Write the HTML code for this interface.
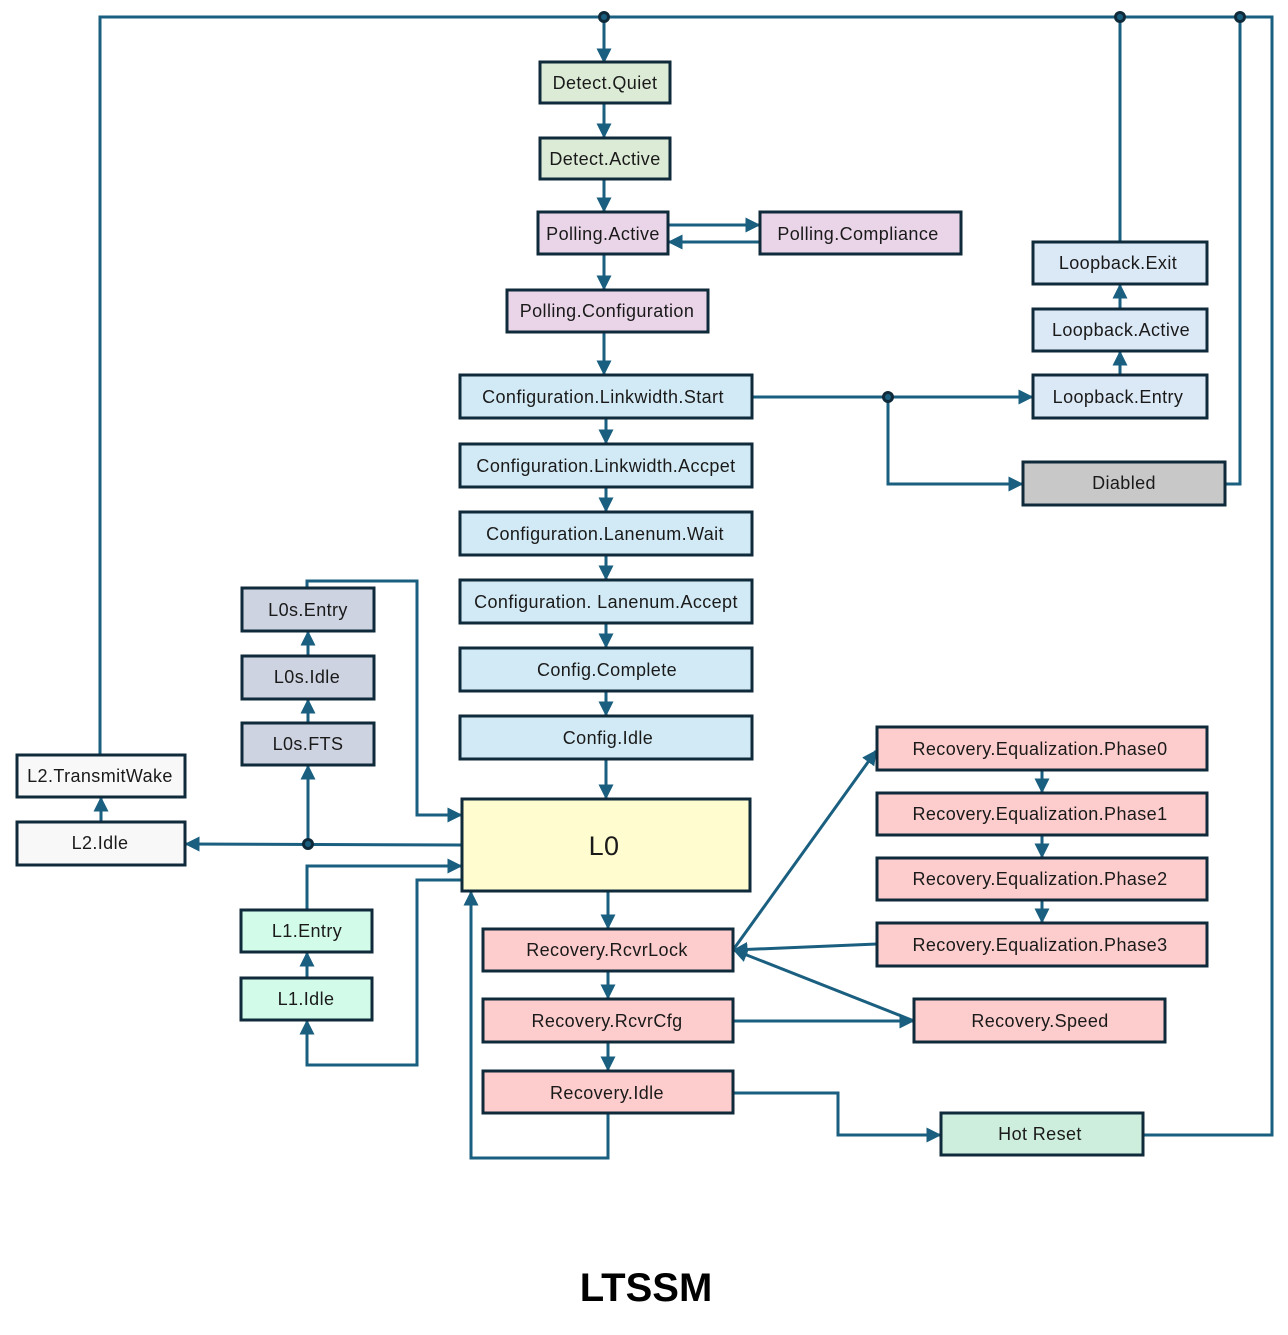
<!DOCTYPE html>
<html><head><style>body{margin:0;background:#fff}svg{display:block}</style></head><body>
<svg width="1288" height="1335" viewBox="0 0 1288 1335" xmlns="http://www.w3.org/2000/svg" font-family="Liberation Sans, sans-serif">
<defs><marker id="a" viewBox="0 0 10 10" refX="9" refY="5" markerWidth="5" markerHeight="5" orient="auto-start-reverse" markerUnits="strokeWidth"><path d="M0,0L10,5L0,10z" fill="#1a5f80"/></marker></defs>
<g fill="none" stroke="#1a5f80" stroke-width="3">
<path d="M100,755V17H1272V1135H1143"/>
<path d="M604,17V62" marker-end="url(#a)"/>
<path d="M1120,17V242"/>
<path d="M1240,17V484H1225"/>
<path d="M604,103V137" marker-end="url(#a)"/>
<path d="M604,179V211" marker-end="url(#a)"/>
<path d="M668,225H759" marker-end="url(#a)"/>
<path d="M760,242H669" marker-end="url(#a)"/>
<path d="M604,254V289" marker-end="url(#a)"/>
<path d="M604,332V374" marker-end="url(#a)"/>
<path d="M752,397H1032" marker-end="url(#a)"/>
<path d="M888,397V484H1022" marker-end="url(#a)"/>
<path d="M1120,375V352" marker-end="url(#a)"/>
<path d="M1120,309V285" marker-end="url(#a)"/>
<path d="M606,418V443" marker-end="url(#a)"/>
<path d="M606,487V511" marker-end="url(#a)"/>
<path d="M606,555V579" marker-end="url(#a)"/>
<path d="M606,623V647" marker-end="url(#a)"/>
<path d="M606,691V715" marker-end="url(#a)"/>
<path d="M606,759V798" marker-end="url(#a)"/>
<path d="M307,588V581H417V815H461" marker-end="url(#a)"/>
<path d="M308,656V632" marker-end="url(#a)"/>
<path d="M308,723V700" marker-end="url(#a)"/>
<path d="M462,845L186,844" marker-end="url(#a)"/>
<path d="M308,844V766" marker-end="url(#a)"/>
<path d="M101,822V798" marker-end="url(#a)"/>
<path d="M307,910V866H461" marker-end="url(#a)"/>
<path d="M462,880H417V1065H307V1021" marker-end="url(#a)"/>
<path d="M307,978V953" marker-end="url(#a)"/>
<path d="M608,891V928" marker-end="url(#a)"/>
<path d="M608,971V998" marker-end="url(#a)"/>
<path d="M608,1042V1070" marker-end="url(#a)"/>
<path d="M608,1113V1158H471V892" marker-end="url(#a)"/>
<path d="M733,950L876,751" marker-end="url(#a)"/>
<path d="M877,944L734,950" marker-end="url(#a)"/>
<path d="M733,1021H913" marker-end="url(#a)"/>
<path d="M914,1021L734,950" marker-end="url(#a)"/>
<path d="M733,1093H838V1135H940" marker-end="url(#a)"/>
<path d="M1042,770V792" marker-end="url(#a)"/>
<path d="M1042,835V857" marker-end="url(#a)"/>
<path d="M1042,900V922" marker-end="url(#a)"/>
</g>
<g fill="#1a5f80" stroke="#0f2a3a" stroke-width="3"><circle cx="604" cy="17" r="4.5"/><circle cx="1120" cy="17" r="4.5"/><circle cx="1240" cy="17" r="4.5"/><circle cx="888" cy="397" r="4.5"/><circle cx="308" cy="844" r="4.5"/></g>
<g stroke="#0f2a3a" stroke-width="3">
<rect x="540" y="62" width="130" height="41" fill="#dcebd6"/>
<rect x="540" y="138" width="130" height="41" fill="#dcebd6"/>
<rect x="538" y="212" width="130" height="42" fill="#ead5e8"/>
<rect x="760" y="212" width="201" height="42" fill="#ead5e8"/>
<rect x="507" y="290" width="201" height="42" fill="#ead5e8"/>
<rect x="460" y="375" width="292" height="43" fill="#d2eaf5"/>
<rect x="460" y="444" width="292" height="43" fill="#d2eaf5"/>
<rect x="460" y="512" width="292" height="43" fill="#d2eaf5"/>
<rect x="460" y="580" width="292" height="43" fill="#d2eaf5"/>
<rect x="460" y="648" width="292" height="43" fill="#d2eaf5"/>
<rect x="460" y="716" width="292" height="43" fill="#d2eaf5"/>
<rect x="462" y="799" width="288" height="92" fill="#fffdd0"/>
<rect x="483" y="929" width="250" height="42" fill="#fdcccc"/>
<rect x="483" y="999" width="250" height="43" fill="#fdcccc"/>
<rect x="483" y="1071" width="250" height="42" fill="#fdcccc"/>
<rect x="877" y="727" width="330" height="43" fill="#fdcccc"/>
<rect x="877" y="793" width="330" height="42" fill="#fdcccc"/>
<rect x="877" y="858" width="330" height="42" fill="#fdcccc"/>
<rect x="877" y="923" width="330" height="43" fill="#fdcccc"/>
<rect x="914" y="999" width="251" height="43" fill="#fdcccc"/>
<rect x="941" y="1113" width="202" height="42" fill="#cdeedd"/>
<rect x="1033" y="242" width="174" height="42" fill="#dbe8f6"/>
<rect x="1033" y="309" width="174" height="42" fill="#dbe8f6"/>
<rect x="1033" y="375" width="174" height="43" fill="#dbe8f6"/>
<rect x="1023" y="462" width="202" height="43" fill="#c8c8c8"/>
<rect x="242" y="588" width="132" height="43" fill="#cdd3e0"/>
<rect x="242" y="656" width="132" height="43" fill="#cdd3e0"/>
<rect x="242" y="723" width="132" height="42" fill="#cdd3e0"/>
<rect x="17" y="755" width="168" height="42" fill="#f8f8f8"/>
<rect x="17" y="822" width="168" height="43" fill="#f8f8f8"/>
<rect x="241" y="910" width="131" height="42" fill="#d2fbe9"/>
<rect x="241" y="978" width="131" height="42" fill="#d2fbe9"/>
</g>
<g font-size="18" letter-spacing="0.4" fill="#1a1a1a" text-anchor="middle" dominant-baseline="central">
<text x="605" y="83">Detect.Quiet</text>
<text x="605" y="159">Detect.Active</text>
<text x="603" y="234">Polling.Active</text>
<text x="858" y="234">Polling.Compliance</text>
<text x="607" y="311">Polling.Configuration</text>
<text x="603" y="397">Configuration.Linkwidth.Start</text>
<text x="606" y="466">Configuration.Linkwidth.Accpet</text>
<text x="605" y="534">Configuration.Lanenum.Wait</text>
<text x="606" y="602">Configuration. Lanenum.Accept</text>
<text x="607" y="670">Config.Complete</text>
<text x="608" y="738">Config.Idle</text>
<text x="604" y="846" font-size="27">L0</text>
<text x="607" y="950">Recovery.RcvrLock</text>
<text x="607" y="1021">Recovery.RcvrCfg</text>
<text x="607" y="1093">Recovery.Idle</text>
<text x="1040" y="749">Recovery.Equalization.Phase0</text>
<text x="1040" y="814">Recovery.Equalization.Phase1</text>
<text x="1040" y="879">Recovery.Equalization.Phase2</text>
<text x="1040" y="945">Recovery.Equalization.Phase3</text>
<text x="1040" y="1021">Recovery.Speed</text>
<text x="1040" y="1134">Hot Reset</text>
<text x="1118" y="263">Loopback.Exit</text>
<text x="1121" y="330">Loopback.Active</text>
<text x="1118" y="397">Loopback.Entry</text>
<text x="1124" y="483">Diabled</text>
<text x="308" y="610">L0s.Entry</text>
<text x="307" y="677">L0s.Idle</text>
<text x="308" y="744">L0s.FTS</text>
<text x="100" y="776">L2.TransmitWake</text>
<text x="100" y="843">L2.Idle</text>
<text x="307" y="931">L1.Entry</text>
<text x="306" y="999">L1.Idle</text>
<text x="646" y="1288" font-size="40" font-weight="bold" letter-spacing="0" fill="#000">LTSSM</text>
</g>
</svg>
</body></html>
